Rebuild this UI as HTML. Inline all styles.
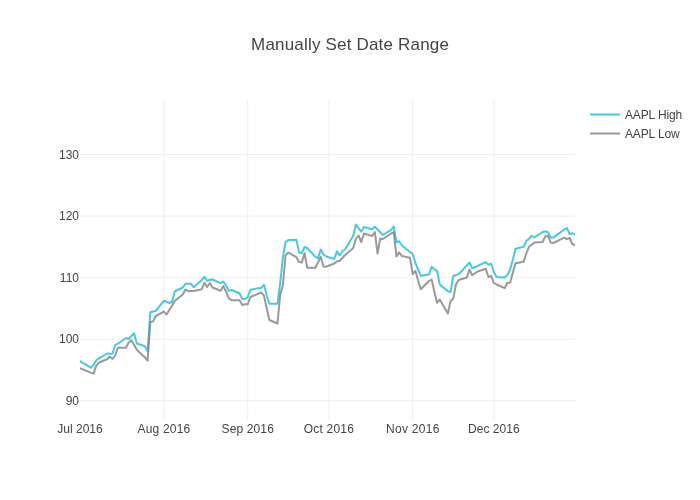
<!DOCTYPE html>
<html lang="en">
<head>
<meta charset="utf-8">
<title>Manually Set Date Range</title>
<style>
html,body{margin:0;padding:0;background:#fff;}
body{width:700px;height:500px;overflow:hidden;}
svg{display:block;font-family:"Liberation Sans","DejaVu Sans",sans-serif;}
text{fill:#444;}
.grid path{stroke:#eee;stroke-width:1px;fill:none;}
.trace{fill:none;stroke-width:2px;stroke-linejoin:round;stroke-linecap:butt;}
.tick{font-size:12px;}
.title{font-size:17px;}
.leg{font-size:12px;}
</style>
</head>
<body>
<svg width="700" height="500" viewBox="0 0 700 500">
<rect x="0" y="0" width="700" height="500" fill="#fff"/>
<defs><clipPath id="plotclip"><rect x="0" y="0" width="495" height="320"/></clipPath></defs>
<g class="grid">
<path d="M163.85,100V420"/>
<path d="M247.70,100V420"/>
<path d="M328.85,100V420"/>
<path d="M412.70,100V420"/>
<path d="M493.85,100V420"/>
<path d="M80,400.74H575"/>
<path d="M80,339.20H575"/>
<path d="M80,277.66H575"/>
<path d="M80,216.12H575"/>
<path d="M80,154.58H575"/>
</g>
<g transform="translate(80,100)" clip-path="url(#plotclip)">
<path class="trace" stroke="#17BECF" opacity="0.8" d="M-2.70,262.50L0.00,261.00L10.82,267.60L13.52,265.00L16.23,260.40L18.93,258.40L27.05,253.50L29.75,253.70L32.46,253.80L35.16,245.20L37.87,243.70L45.98,238.00L48.69,239.00L51.39,236.00L54.10,233.20L56.80,243.50L64.92,246.30L67.62,251.30L70.33,212.20L73.03,211.50L75.74,210.90L83.85,200.80L86.56,201.80L89.26,203.00L91.97,202.00L94.67,191.50L102.79,187.50L105.49,183.80L108.20,183.80L110.90,183.80L113.61,187.20L121.72,180.00L124.43,176.90L127.13,180.80L129.84,179.70L132.54,179.50L140.66,183.10L143.36,181.60L146.07,185.30L148.77,190.90L151.48,190.00L159.59,193.30L162.30,199.00L165.00,198.80L167.70,197.20L170.41,189.70L181.23,187.80L183.93,184.80L186.64,195.00L189.34,203.80L197.46,203.80L200.16,183.50L202.87,157.50L205.57,142.00L208.28,140.10L216.39,139.70L219.10,152.50L221.80,153.00L224.51,147.00L227.21,148.00L235.33,156.80L238.03,158.20L240.74,149.50L243.44,154.50L246.15,156.50L254.26,159.00L256.97,151.30L259.67,155.50L262.38,151.00L265.08,149.50L273.20,135.80L275.90,124.50L278.61,128.30L281.31,131.50L284.02,127.00L292.13,129.30L294.84,126.80L297.54,129.50L300.25,132.20L302.95,135.00L311.07,129.80L313.77,126.50L316.48,142.30L319.18,141.30L321.89,145.50L330.00,152.00L332.70,154.00L335.41,163.00L338.11,169.50L340.82,175.80L348.93,174.50L351.64,166.80L354.34,169.20L357.05,170.80L359.75,184.50L367.87,191.20L370.57,192.00L373.28,176.00L375.98,175.00L378.69,174.20L386.80,165.50L389.51,162.50L392.21,168.20L397.62,166.00L405.74,162.20L408.44,164.70L411.15,163.80L413.85,172.00L416.56,177.00L424.67,177.50L427.38,175.00L430.08,169.50L432.79,160.00L435.49,148.70L443.61,146.80L446.31,141.00L449.02,138.70L451.72,135.80L454.43,137.50L462.54,132.00L465.25,131.40L467.95,132.30L470.66,137.40L473.36,137.60L484.18,129.50L486.89,128.00L489.59,134.00L492.30,133.20L503.11,138.50"/>
<path class="trace" stroke="#7F7F7F" opacity="0.8" d="M-2.70,271.00L0.00,268.10L10.82,272.60L13.52,273.60L16.23,265.60L18.93,262.50L27.05,259.30L29.75,256.50L32.46,258.90L35.16,255.50L37.87,247.80L45.98,247.80L48.69,242.50L51.39,240.30L54.10,245.00L56.80,249.70L64.92,257.50L67.62,260.70L70.33,222.00L73.03,221.50L75.74,216.00L83.85,211.60L86.56,214.60L89.26,210.00L91.97,206.00L94.67,201.00L102.79,194.50L105.49,189.50L108.20,191.20L110.90,190.70L113.61,191.00L121.72,189.20L124.43,182.80L127.13,187.00L129.84,183.00L132.54,187.50L140.66,190.70L143.36,186.10L146.07,191.70L148.77,198.20L151.48,200.30L159.59,200.30L162.30,205.00L165.00,204.30L167.70,204.30L170.41,197.00L181.23,192.50L183.93,195.50L186.64,208.00L189.34,220.00L197.46,223.50L200.16,195.00L202.87,185.50L205.57,155.50L208.28,152.50L216.39,157.20L219.10,162.00L221.80,162.50L224.51,153.00L227.21,167.70L235.33,167.70L238.03,162.50L240.74,156.80L243.44,166.50L246.15,166.80L254.26,163.50L256.97,161.40L259.67,160.70L262.38,158.00L265.08,155.00L273.20,148.00L275.90,139.00L278.61,135.50L281.31,142.00L284.02,133.50L292.13,136.00L294.84,132.00L297.54,153.50L300.25,138.50L302.95,139.00L311.07,133.50L313.77,132.30L316.48,156.50L319.18,152.30L321.89,156.00L330.00,157.70L332.70,174.20L335.41,170.80L338.11,180.50L340.82,189.30L348.93,181.00L351.64,179.50L354.34,191.50L357.05,202.80L359.75,199.50L367.87,213.50L370.57,201.00L373.28,198.50L375.98,184.50L378.69,180.00L386.80,177.50L389.51,169.50L392.21,175.30L397.62,171.50L405.74,168.80L408.44,177.00L411.15,175.80L413.85,183.00L416.56,184.50L424.67,188.20L427.38,182.80L430.08,182.80L432.79,173.00L435.49,163.30L443.61,161.80L446.31,153.50L449.02,146.80L451.72,144.70L454.43,142.50L462.54,142.00L465.25,136.50L467.95,135.80L470.66,142.50L473.36,143.00L484.18,137.70L486.89,139.20L489.59,138.00L492.30,144.00L503.11,149.00"/>
</g>
<g class="xaxis">
<text class="tick" x="80.00" y="433" text-anchor="middle">Jul 2016</text>
<text class="tick" x="163.95" y="433" text-anchor="middle" letter-spacing="0.2">Aug 2016</text>
<text class="tick" x="247.77" y="433" text-anchor="middle" letter-spacing="0.14">Sep 2016</text>
<text class="tick" x="328.95" y="433" text-anchor="middle" letter-spacing="0.2">Oct 2016</text>
<text class="tick" x="412.85" y="433" text-anchor="middle" letter-spacing="0.3">Nov 2016</text>
<text class="tick" x="493.88" y="433" text-anchor="middle" letter-spacing="0.05">Dec 2016</text>
</g><g class="yaxis">
<text class="tick" x="79" y="404.70" text-anchor="end">90</text>
<text class="tick" x="79" y="342.70" text-anchor="end">100</text>
<text class="tick" x="79" y="281.70" text-anchor="end">110</text>
<text class="tick" x="79" y="219.70" text-anchor="end">120</text>
<text class="tick" x="79" y="158.70" text-anchor="end">130</text>
</g>
<g class="legend">
<path class="trace" stroke="#17BECF" opacity="0.8" d="M590,114.5H620"/>
<text class="leg" x="625" y="118.7" letter-spacing="-0.13">AAPL High</text>
<path class="trace" stroke="#7F7F7F" opacity="0.8" d="M590,133.5H620"/>
<text class="leg" x="625" y="137.7" letter-spacing="-0.13">AAPL Low</text>
</g>
<text class="title" x="350.1" y="50" text-anchor="middle" letter-spacing="0.19">Manually Set Date Range</text>
</svg>
</body>
</html>
